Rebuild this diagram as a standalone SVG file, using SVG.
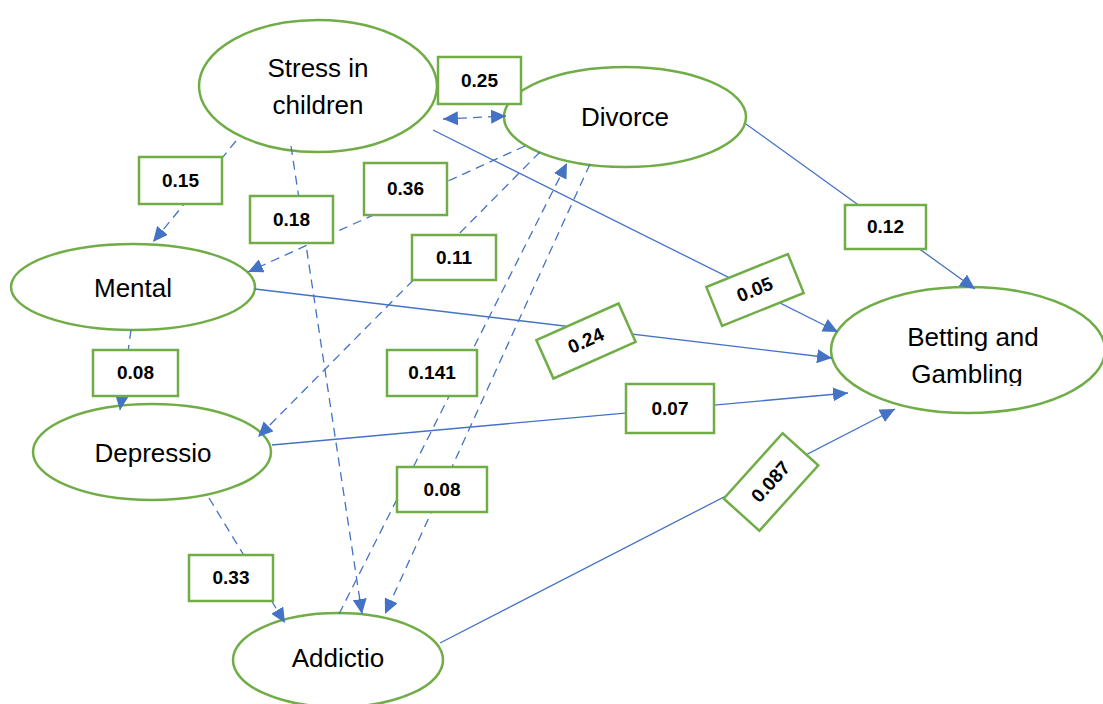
<svg xmlns="http://www.w3.org/2000/svg" width="1103" height="704" viewBox="0 0 1103 704">
<style>
.node{fill:#fff;stroke:#70AD47;stroke-width:2.5}
.nt{font-family:"Liberation Sans",Arial,sans-serif;font-size:26px;fill:#000;text-anchor:middle}
.ln{stroke:#4472C4;stroke-width:1.3;fill:none;marker-end:url(#ah)}
.d{stroke-dasharray:9,6}
.lb{fill:#fff;stroke:#70AD47;stroke-width:2.5}
.lt{font-family:"Liberation Sans",Arial,sans-serif;font-size:19px;font-weight:bold;fill:#000;text-anchor:middle}
</style>
<defs>
<marker id="ah" markerUnits="userSpaceOnUse" markerWidth="15" markerHeight="14" refX="15" refY="7" orient="auto-start-reverse">
<path d="M0,0 L15,7 L0,14 z" fill="#4472C4"/>
</marker>
<clipPath id="gclip"><rect x="820" y="280" width="290" height="106"/></clipPath>
</defs>
<rect width="1103" height="704" fill="#fff"/>
<g id="node-stress"><ellipse class="node" cx="318" cy="86" rx="119" ry="66"/><text class="nt" x="318" y="77">Stress in</text><text class="nt" x="318" y="114">children</text></g>
<g id="node-divorce"><ellipse class="node" cx="625" cy="117" rx="121" ry="50"/><text class="nt" x="625" y="126">Divorce</text></g>
<g id="node-mental"><ellipse class="node" cx="133" cy="287" rx="122" ry="43"/><text class="nt" x="133" y="297">Mental</text></g>
<g id="node-depressio"><ellipse class="node" cx="152" cy="452" rx="119" ry="48"/><text class="nt" x="153" y="462">Depressio</text></g>
<g id="node-addictio"><ellipse class="node" cx="338" cy="660" rx="105" ry="47"/><text class="nt" x="338" y="667">Addictio</text></g>
<g id="node-betting"><ellipse class="node" cx="968" cy="350" rx="137" ry="63"/><g clip-path="url(#gclip)"><text class="nt" x="973" y="346">Betting and</text><text class="nt" x="967" y="383">Gambling</text></g></g>
<g id="connectors">
<path class="ln d" d="M443,119 L506,116" marker-start="url(#ah)"/>
<path class="ln d" d="M236,141 L153,242"/>
<path class="ln d" d="M291,146 L362,614"/>
<path class="ln d" d="M525,146 L248,272"/>
<path class="ln d" d="M540,152 L258,437"/>
<path class="ln d" d="M339,614 L567,163"/>
<path class="ln d" d="M590,164 L385,614"/>
<path class="ln" d="M433,130 L838,332"/>
<path class="ln" d="M746,124 L975,289"/>
<path class="ln" d="M255,289 L832,358"/>
<path class="ln" d="M272,445 L848,393"/>
<path class="ln" d="M440,643 L895,409"/>
<path class="ln d" d="M131,330 L120,410"/>
<path class="ln d" d="M209,498 L285,623"/>
</g>
<g id="labels">
<g><rect class="lb" x="438" y="57" width="83" height="47"/><text class="lt" x="479.5" y="87">0.25</text></g>
<g><rect class="lb" x="139" y="157" width="83" height="47"/><text class="lt" x="180.5" y="187">0.15</text></g>
<g><rect class="lb" x="250" y="196" width="83" height="47"/><text class="lt" x="291.5" y="226">0.18</text></g>
<g><rect class="lb" x="364" y="163" width="83" height="52"/><text class="lt" x="405.5" y="195">0.36</text></g>
<g><rect class="lb" x="412" y="235" width="84" height="45"/><text class="lt" x="454" y="264">0.11</text></g>
<g><rect class="lb" x="93" y="350" width="85" height="46"/><text class="lt" x="135.5" y="379">0.08</text></g>
<g><rect class="lb" x="387" y="350" width="90" height="46"/><text class="lt" x="432" y="379">0.141</text></g>
<g><rect class="lb" x="397" y="467" width="90" height="45"/><text class="lt" x="442" y="496">0.08</text></g>
<g><rect class="lb" x="189" y="555" width="84" height="46"/><text class="lt" x="231" y="584">0.33</text></g>
<g><rect class="lb" x="845" y="205" width="81" height="44"/><text class="lt" x="885.5" y="233">0.12</text></g>
<g><rect class="lb" x="626" y="384" width="88" height="49"/><text class="lt" x="670" y="415">0.07</text></g>
<g transform="translate(755,290) rotate(-22)"><rect class="lb" x="-44" y="-21" width="88" height="42"/><text class="lt" x="0" y="6">0.05</text></g>
<g transform="translate(586,341) rotate(-24)"><rect class="lb" x="-45" y="-21" width="90" height="42"/><text class="lt" x="0" y="6">0.24</text></g>
<g transform="translate(771,482) rotate(-48)"><rect class="lb" x="-44" y="-24" width="88" height="48"/><text class="lt" x="0" y="6">0.087</text></g>
</g>
</svg>
